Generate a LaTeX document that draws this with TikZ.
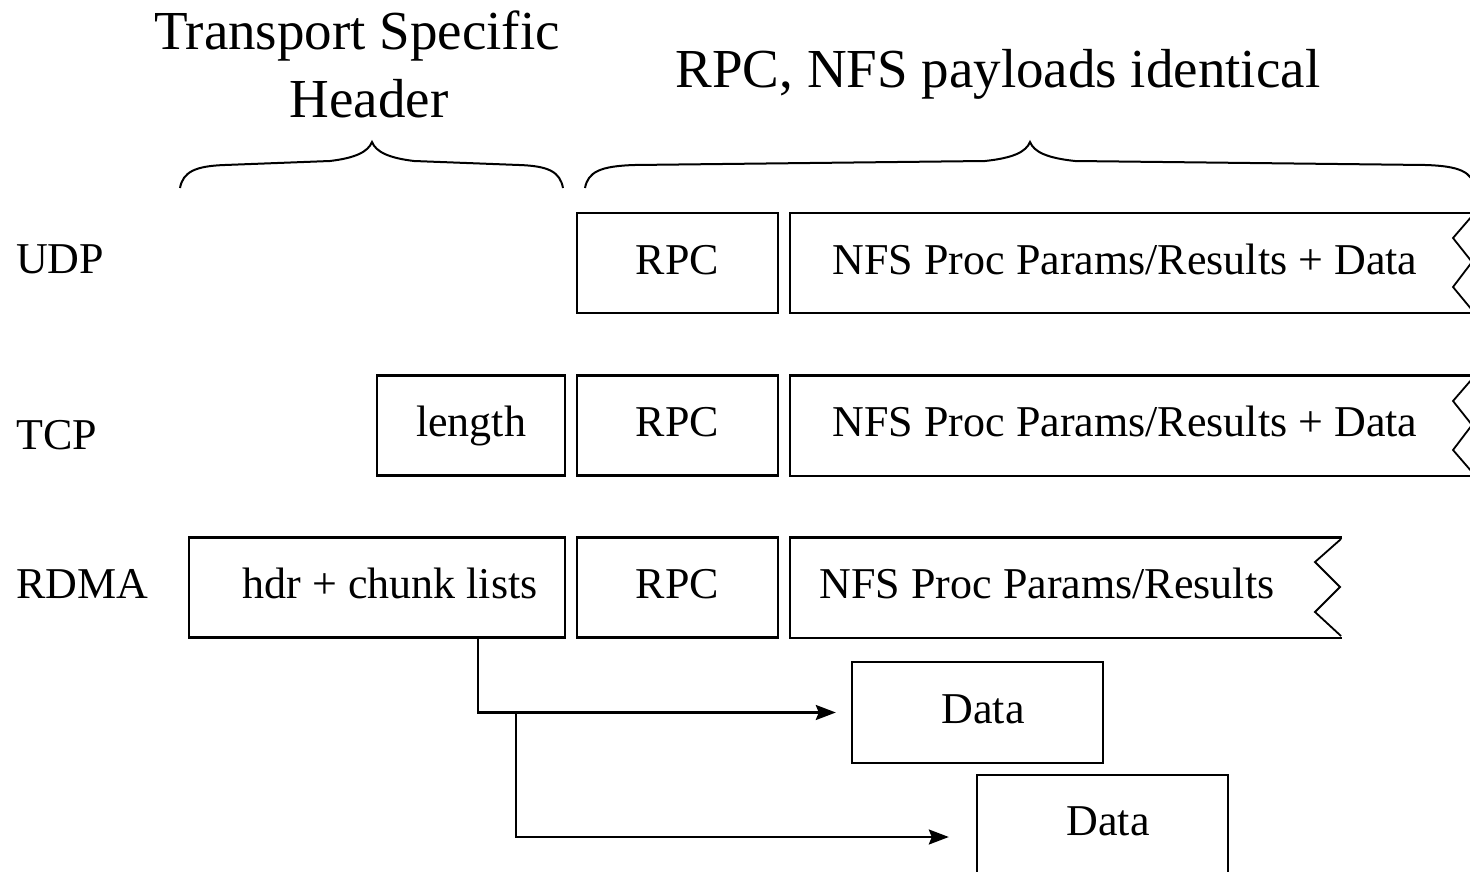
\documentclass[tikz,border=0pt]{standalone}
\usepackage{fontspec}
\setmainfont{Liberation Serif}
\usetikzlibrary{arrows.meta}
\begin{document}
\begin{tikzpicture}[x=1pt,y=-1pt,
  box/.style={draw,line width=2.4pt,inner sep=0pt,minimum height=100pt},
  shape only/.style={inner sep=0pt,minimum height=100pt},
  lbl/.style={font=\fontsize{44}{48}\selectfont,inner sep=0pt,anchor=base},
  rowlbl/.style={font=\fontsize{44}{48}\selectfont,inner sep=0pt,anchor=base west},
  title/.style={font=\fontsize{55}{68}\selectfont,inner sep=0pt,anchor=base},
  outline/.style={line width=2.4pt},
  zig/.style={line width=1.8pt},
  brace/.style={line width=2pt},
  arr/.style={line width=2.4pt,-{Stealth[length=20pt,width=15pt,inset=3pt]}}]
\useasboundingbox (0,0) rectangle (1470,872);

% titles
\node[title] (t1) at (357,50) {Transport Specific};
\node[title] (t2) at (369,118) {Header};
\node[title] (t3) at (998,88) {RPC, NFS payloads identical};

% braces
\draw[brace] (180,188) .. controls (183,172) and (195,166) .. (225,165) -- (330,161)
  .. controls (355,158) and (368,152) .. (372,142)
  .. controls (376,152) and (389,158) .. (414,161) -- (519,165)
  .. controls (549,166) and (560,172) .. (563,188);
\draw[brace] (585,188) .. controls (588,172) and (600,166) .. (635,165) -- (985,161)
  .. controls (1013,158) and (1026,152) .. (1030,142)
  .. controls (1034,152) and (1047,158) .. (1075,161) -- (1425,165)
  .. controls (1460,166) and (1472,172) .. (1475,188);

% row labels
\node[rowlbl] (udp) at (16,273) {UDP};
\node[rowlbl] (tcp) at (16,449) {TCP};
\node[rowlbl] (rdma) at (16,598) {RDMA};

% UDP row
\node[box,minimum width=201pt] (rpc1) at (677.5,263) {};
\node[lbl] at (677.5,274) {RPC};
\node[shape only,minimum width=685pt] (nfs1) at (1132.5,263) {};
\draw[outline] (nfs1.north east) -- (nfs1.north west) -- (nfs1.south west) -- (nfs1.south east);
\draw[zig] (1472,216) -- (1453,238) -- (1472,262) -- (1453,287) -- (1472,310);
\node[lbl] at (1125,274) {NFS Proc Params/Results + Data};

% TCP row
\node[box,minimum width=188pt] (len) at (471,425.5) {};
\node[lbl] at (471,436.5) {length};
\node[box,minimum width=201pt] (rpc2) at (677.5,425.5) {};
\node[lbl] at (677.5,436.5) {RPC};
\node[shape only,minimum width=685pt] (nfs2) at (1132.5,425.5) {};
\draw[outline] (nfs2.north east) -- (nfs2.north west) -- (nfs2.south west) -- (nfs2.south east);
\draw[zig] (1472,379) -- (1453,401) -- (1472,425) -- (1453,450) -- (1472,472);
\node[lbl] at (1125,436.5) {NFS Proc Params/Results + Data};

% RDMA row
\node[box,minimum width=376pt] (hdr) at (377,587.5) {};
\node[lbl] at (390,598.5) {hdr + chunk lists};
\node[box,minimum width=201pt] (rpc3) at (677.5,587.5) {};
\node[lbl] at (677.5,598.5) {RPC};
\node[shape only,minimum width=552pt] (nfs3) at (1066,587.5) {};
\draw[outline] (nfs3.north east) -- (nfs3.north west) -- (nfs3.south west) -- (nfs3.south east);
\draw[zig] (1341,539) -- (1315,562) -- (1340,587) -- (1315,612) -- (1341,636);
\node[lbl] at (1047,598.5) {NFS Proc Params/Results};

% data boxes
\node[box,minimum width=251pt,minimum height=101pt] (d1) at (977.5,712.5) {};
\node[lbl] at (983,723.5) {Data};
\node[box,minimum width=251pt] (d2) at (1102.5,825) {};
\node[lbl] at (1108,835) {Data};

% connectors
\coordinate (j) at (516,713);
\draw[arr,shorten >=15pt] (hdr.south -| 478,0) |- (d1.west);
\draw[line width=2.4pt] (478,713) -- (j);
\draw[arr,shorten >=27pt] (j) |- ([yshift=-12pt]d2.west);
\end{tikzpicture}
\end{document}
